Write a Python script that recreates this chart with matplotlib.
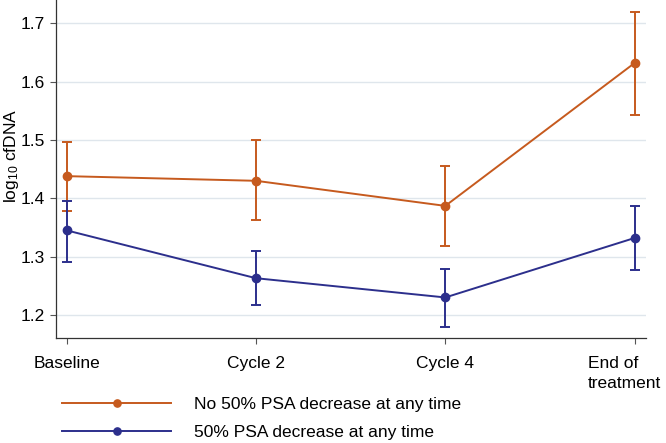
import matplotlib
matplotlib.use("Agg")
import matplotlib.pyplot as plt
from matplotlib.lines import Line2D
from matplotlib.transforms import ScaledTranslation

plt.rcParams['font.family'] = ['Liberation Sans', 'DejaVu Sans']
plt.rcParams['mathtext.default'] = 'regular'

categories = ["Baseline", "Cycle 2", "Cycle 4", "End of\ntreatment"]
no_mean = [1.438, 1.430, 1.387, 1.632]
no_low = [1.378, 1.362, 1.319, 1.543]
no_high = [1.497, 1.500, 1.455, 1.720]
yes_mean = [1.345, 1.263, 1.230, 1.332]
yes_low = [1.290, 1.217, 1.180, 1.277]
yes_high = [1.396, 1.309, 1.279, 1.387]
labels = ["No 50% PSA decrease at any time", "50% PSA decrease at any time"]
yticks = [1.2, 1.3, 1.4, 1.5, 1.6, 1.7]

orange = "#c65a1e"
navy = "#2c2f8c"
fs = 12.5

fig = plt.figure(figsize=(6.66, 4.43), dpi=100)
ax = fig.add_axes([56/666, 1-337.7/443, (646-56)/666, 337.7/443])

x = list(range(len(categories)))
for mean, lo, hi, col in [(no_mean, no_low, no_high, orange),
                          (yes_mean, yes_low, yes_high, navy)]:
    err = [[m - l for m, l in zip(mean, lo)], [h - m for m, h in zip(mean, hi)]]
    ax.errorbar(x, mean, yerr=err, color=col, lw=1.4, marker='o', ms=6,
                capsize=3.6, capthick=1.4, elinewidth=1.4, zorder=3)

ax.set_xlim(-0.0565, 3.06)
ax.set_ylim(1.161, 1.740)
ax.set_yticks(yticks)
ax.set_yticklabels([f"{v:.1f}" for v in yticks])
ax.set_xticks(x)
ax.set_xticklabels(categories, linespacing=1.4)
ax.tick_params(axis='y', labelsize=fs, length=4.3, width=0.8, color='#555555', pad=3.5)
ax.tick_params(axis='x', labelsize=fs, length=4.5, width=0.8, color='#555555', pad=8.5)
last = ax.get_xticklabels()[-1]
last.set_multialignment('left')
last.set_transform(last.get_transform() + ScaledTranslation(-10.5/100, 0, fig.dpi_scale_trans))
ax.grid(axis='y', color='#dfe6ec', lw=1.0)
ax.set_axisbelow(True)
for s in ['top', 'right']:
    ax.spines[s].set_visible(False)
for s in ['left', 'bottom']:
    ax.spines[s].set_color('#333333')
    ax.spines[s].set_linewidth(0.9)
ax.set_ylabel(r"log$_{10}$ cfDNA", fontsize=fs)
ax.yaxis.set_label_coords((21 - 56) / 590, 0.5 + 13 / 337.7)

handles = [Line2D([0], [0], color=orange, lw=1.4, marker='o', ms=5.2),
           Line2D([0], [0], color=navy, lw=1.4, marker='o', ms=5.2)]
fig.legend(handles, labels, loc='upper left', bbox_to_anchor=(62/666, 1-396.5/443),
           frameon=False, fontsize=fs, handlelength=6.3, handletextpad=1.33,
           labelspacing=0.78, borderaxespad=0, borderpad=0)

fig.savefig("out.png", dpi=100)
